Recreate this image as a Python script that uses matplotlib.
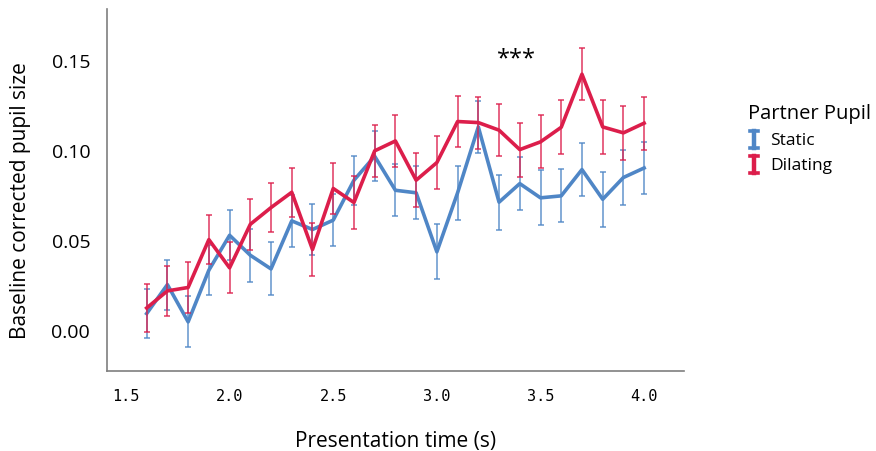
import matplotlib.pyplot as plt
from matplotlib.ticker import FormatStrFormatter
from matplotlib.lines import Line2D
from matplotlib.legend_handler import HandlerBase

plt.rcParams['font.family'] = ['Open Sans', 'DejaVu Sans']

# presentation time (s)
time = [1.6, 1.7, 1.8, 1.9, 2.0, 2.1, 2.2, 2.3, 2.4, 2.5, 2.6, 2.7, 2.8,
        2.9, 3.0, 3.1, 3.2, 3.3, 3.4, 3.5, 3.6, 3.7, 3.8, 3.9, 4.0]

static_mean = [0.0098, 0.0259, 0.0052, 0.0339, 0.0533, 0.0422, 0.0346, 0.0613, 0.0565,
               0.0617, 0.0839, 0.0972, 0.0783, 0.0769, 0.0441, 0.0769, 0.1135, 0.0717,
               0.0820, 0.0741, 0.0752, 0.0898, 0.0733, 0.0854, 0.0907]
static_err = [0.0138, 0.0139, 0.0142, 0.0140, 0.0139, 0.0147, 0.0147, 0.0145, 0.0143,
              0.0146, 0.0137, 0.0140, 0.0145, 0.0147, 0.0153, 0.0150, 0.0143, 0.0152,
              0.0149, 0.0153, 0.0148, 0.0147, 0.0153, 0.0152, 0.0146]

dilating_mean = [0.0129, 0.0224, 0.0243, 0.0509, 0.0352, 0.0594, 0.0687, 0.0772, 0.0454,
                 0.0793, 0.0715, 0.1002, 0.1057, 0.0839, 0.0937, 0.1165, 0.1159, 0.1117,
                 0.1009, 0.1052, 0.1133, 0.1428, 0.1135, 0.1102, 0.1156]
dilating_err = [0.0135, 0.0138, 0.0140, 0.0135, 0.0141, 0.0141, 0.0137, 0.0136, 0.0148,
                0.0142, 0.0146, 0.0146, 0.0144, 0.0150, 0.0148, 0.0144, 0.0144, 0.0146,
                0.0150, 0.0147, 0.0150, 0.0143, 0.0150, 0.0151, 0.0147]

blue = '#4f86c6'
red = '#dc1e4b'


class IBarHandler(HandlerBase):
    # legend key drawn as an "I" shaped error bar
    def create_artists(self, legend, orig_handle, xdescent, ydescent,
                       width, height, fontsize, trans):
        c = orig_handle.get_color()
        cx = width / 2 - xdescent
        y0 = -ydescent - 0.15 * height
        y1 = -ydescent + 1.05 * height
        hw = 0.3 * width
        arts = [Line2D([cx, cx], [y0, y1], color=c, lw=3.2),
                Line2D([cx - hw, cx + hw], [y0, y0], color=c, lw=2.6),
                Line2D([cx - hw, cx + hw], [y1, y1], color=c, lw=2.6)]
        for a in arts:
            a.set_transform(trans)
        return arts


fig = plt.figure(figsize=(8.76, 4.51), dpi=100)
ax = fig.add_axes([0.122, 0.177, 0.659, 0.803])

for m, e, c in [(static_mean, static_err, blue), (dilating_mean, dilating_err, red)]:
    ax.errorbar(time, m, yerr=e, fmt='none', ecolor=c, elinewidth=1.3,
                capsize=2.5, capthick=1.3, alpha=0.75)
    ax.plot(time, m, color=c, lw=2.6, solid_joinstyle='round')

ax.text(3.385, 0.151, '***', ha='center', va='center', fontsize=17)

ax.set_xlim(1.408, 4.193)
ax.set_ylim(-0.0222, 0.179)
ax.set_xticks([1.5, 2.0, 2.5, 3.0, 3.5, 4.0])
ax.set_yticks([0.0, 0.05, 0.10, 0.15])
ax.yaxis.set_major_formatter(FormatStrFormatter('%.2f'))
ax.xaxis.set_major_formatter(FormatStrFormatter('%.1f'))
ax.tick_params(length=0)
ax.tick_params(axis='y', labelsize=14, pad=12)
ax.tick_params(axis='x', labelsize=11, pad=13)
for lab in ax.get_xticklabels():
    lab.set_fontfamily(['DejaVu Sans Mono', 'DejaVu Sans'])

for s in ['top', 'right']:
    ax.spines[s].set_visible(False)
for s in ['left', 'bottom']:
    ax.spines[s].set_color('#7f7f7f')
    ax.spines[s].set_linewidth(1.2)

ax.set_xlabel('Presentation time (s)', fontsize=15, labelpad=19)
ax.set_ylabel('Baseline corrected pupil size', fontsize=15)
ax.yaxis.set_label_coords(-0.132, 0.47)

h1 = Line2D([], [], color=blue)
h2 = Line2D([], [], color=red)
leg = fig.legend([h1, h2], ['Static', 'Dilating'], title='Partner Pupil',
                 loc='upper left', bbox_to_anchor=(0.836, 0.805), frameon=False,
                 fontsize=12.5, title_fontsize=14.5, handlelength=0.7, handleheight=0.9,
                 handletextpad=0.6, labelspacing=0.45, alignment='left',
                 handler_map={Line2D: IBarHandler()})

fig.savefig('out.png', dpi=100)
